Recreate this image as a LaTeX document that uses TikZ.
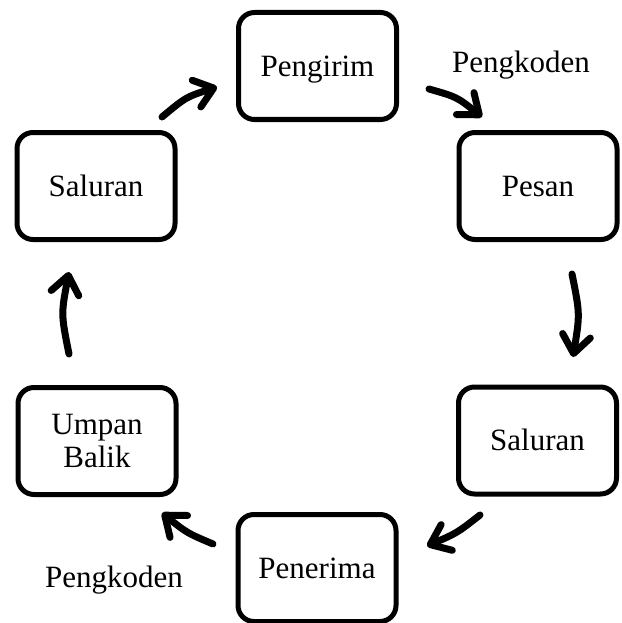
\documentclass[tikz,border=0pt]{standalone}
\usepackage{fontspec}
\setmainfont{Liberation Serif}
\usetikzlibrary{arrows.meta}
\tikzset{
  box/.style={draw, line width=5pt, rounded corners=16pt, minimum width=158pt,
    minimum height=107pt, inner sep=0pt, align=center,
    font=\fontsize{31}{33}\selectfont},
  onel/.style={text height=20.5pt, text depth=0pt},
  lbl/.style={inner sep=0pt, font=\fontsize{31}{33}\selectfont, text height=20.5pt, text depth=0pt},
  flow/.style={line width=7pt, line cap=round,
    -{Straight Barb[length=18pt, width=28pt, round]}}
}
\begin{document}
\begin{tikzpicture}[x=1pt,y=-1pt]
\useasboundingbox (0,0) rectangle (621,623);
\node[box,onel] (pengirim) at (317.5,66) {Pengirim};
\node[box,onel] (pesan) at (538,186) {Pesan};
\node[box,onel] (salR) at (537.5,440.5) {Saluran};
\node[box,onel] (penerima) at (317,568) {Penerima};
\node[box] (umpan) at (97,441) {Umpan\\Balik};
\node[box,onel] (salL) at (96,186) {Saluran};
\node[lbl] (k1) at (521,62) {Pengkoden};
\node[lbl] (k2) at (114,577) {Pengkoden};
\coordinate (a1s) at (162,117);
\coordinate (a1e) at (217,87);
\coordinate (a2s) at (429,89);
\coordinate (a2e) at (482,117);
\coordinate (a3s) at (572,274);
\coordinate (a3e) at (573,357);
\coordinate (a4s) at (480,515);
\coordinate (a4e) at (427,546);
\coordinate (a5s) at (213,544);
\coordinate (a5e) at (162,513);
\coordinate (a6s) at (69,354);
\coordinate (a6e) at (69,272);
\draw[flow] (a1s) .. controls (186,97) .. (a1e);
\draw[flow] (a2s) .. controls (457,97) .. (a2e);
\draw[flow] (a3s) .. controls (580,314) .. (a3e);
\draw[flow] (a4s) .. controls (457,533) .. (a4e);
\draw[flow] (a5s) .. controls (187,533) .. (a5e);
\draw[flow] (a6s) .. controls (61,314) .. (a6e);
\end{tikzpicture}
\end{document}
